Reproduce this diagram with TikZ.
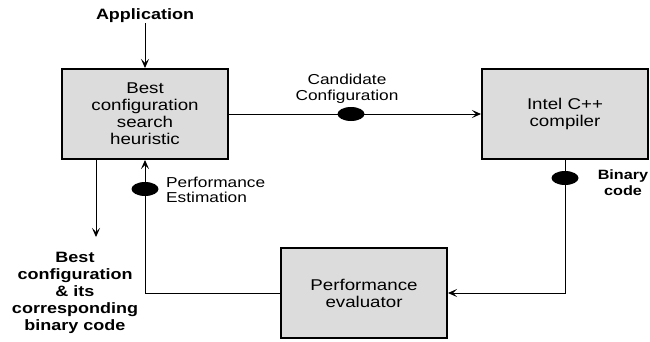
\documentclass[tikz,border=0pt]{standalone}
\usepackage{fontspec}
\setmainfont{Liberation Sans}[FakeStretch=1.2]
\usetikzlibrary{arrows.meta, shapes.geometric}
\definecolor{boxgray}{HTML}{DCDCDC}
\tikzset{
	block/.style={draw, line width=2pt, fill=boxgray, minimum width=166pt, minimum height=90pt, align=center, inner sep=0pt, font=\fontsize{15.6}{17}\selectfont},
	token/.style={ellipse, fill=black, minimum width=27pt, minimum height=14pt, inner sep=0pt},
	lbl/.style={align=center, inner sep=0pt, font=\fontsize{14.4}{15.7}\selectfont},
	flow/.style={line width=1pt, -{Stealth[length=9pt, width=8pt, inset=4pt]}}
}
\begin{document}
\begin{tikzpicture}[x=1pt, y=-1pt]
	\useasboundingbox (0,0) rectangle (650,341);
	\node[block] (search) at (145,114) {Best\\configuration\\search\\heuristic};
	\node[block] (icc) at (565,114) {Intel C++\\compiler};
	\node[block] (eval) at (364,293) {Performance\\evaluator};
	\node[lbl, font=\bfseries\fontsize{15}{17}\selectfont] (app) at (145,16) {Application};
	\node[lbl, font=\bfseries\fontsize{15}{17}\selectfont] (best) at (75,293) {Best\\configuration\\\& its\\corresponding\\binary code};
	\node[lbl] (cand) at (347,89) {Candidate\\Configuration};
	\node[lbl, align=left, anchor=west] (est) at (166,190) {Performance\\Estimation};
	\node[lbl, font=\bfseries\fontsize{13.5}{15.7}\selectfont] (bin) at (623,183) {Binary\\code};
	\coordinate (out) at (96,237);
	\draw[flow] (app.south) -- (search.north);
	\draw[flow] (search.east) -- (icc.west);
	\draw[flow] (icc.south) |- (eval.east);
	\draw[flow] (eval.west) -| (search.south);
	\draw[flow] (search.south -| out) -- (out);
	\node[token] (t1) at (351,114) {};
	\node[token] (t2) at (icc.south |- 0,178) {};
	\node[token] (t3) at (search.south |- 0,189) {};
\end{tikzpicture}
\end{document}
